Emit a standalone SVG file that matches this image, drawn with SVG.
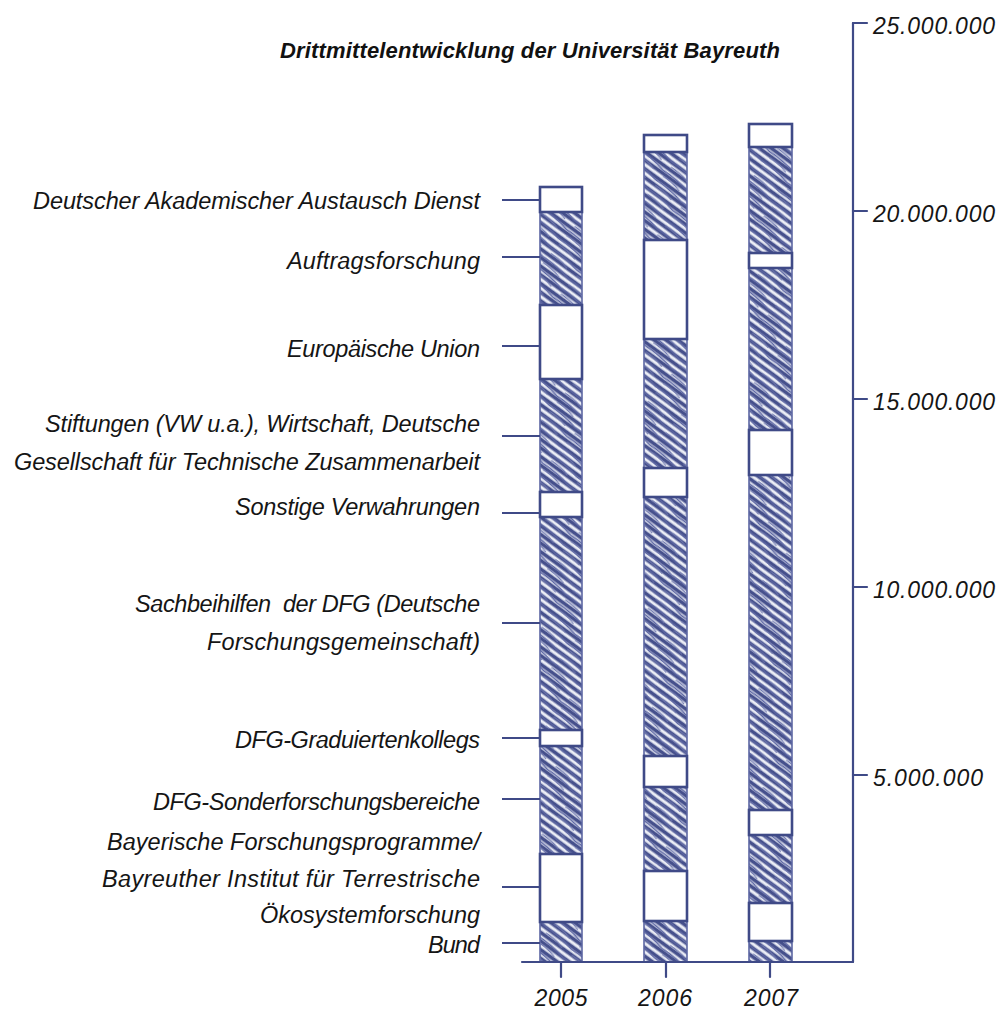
<svg xmlns="http://www.w3.org/2000/svg" width="1003" height="1010" viewBox="0 0 1003 1010">
<style>
.lbl{font-family:"Liberation Sans",Arial,sans-serif;font-style:italic;font-size:23.5px;fill:#151515;text-anchor:end}
.tick{font-family:"Liberation Sans",Arial,sans-serif;font-style:italic;font-size:23px;fill:#151515}
.yr{font-family:"Liberation Sans",Arial,sans-serif;font-style:italic;font-size:23px;fill:#151515;text-anchor:middle}
.title{font-family:"Liberation Sans",Arial,sans-serif;font-style:italic;font-weight:bold;font-size:22px;fill:#111}
.ax{stroke:#3f4a87;stroke-width:2.2;fill:none;stroke-linecap:round}
.con{stroke:#3f4a87;stroke-width:2.2;fill:none}
.wb{fill:#fff;stroke:#3f4a87;stroke-width:2.6}
.hb{fill:url(#h1);stroke:#5d67a3;stroke-width:1.6}
.hov{fill:url(#h2);stroke:none}
</style>
<defs>
<pattern id="h1" width="18" height="7" patternUnits="userSpaceOnUse" patternTransform="rotate(36)">
<rect width="18" height="7" fill="#eceef6"/>
<line x1="0" y1="2.6" x2="18" y2="2.6" stroke="#46508c" stroke-width="3.8"/>
</pattern>
<pattern id="h2" width="34" height="12" patternUnits="userSpaceOnUse" patternTransform="rotate(41)">
<path d="M0 5.5 Q17 3 34 5.5" stroke="#5c66a2" stroke-width="1.3" fill="none"/>
<path d="M4 10 Q15 8 26 10.5" stroke="#6d76ad" stroke-width="1.1" fill="none"/>
</pattern>
</defs>
<rect width="1003" height="1010" fill="#fff"/>

<text class="title" x="280" y="58" textLength="500">Drittmittelentwicklung der Universität Bayreuth</text>

<g id="bar-2005">
<rect class="hb" x="540" y="187" width="42" height="775"/>
<rect class="hov" x="540" y="187" width="42" height="775"/>
<rect class="wb" x="540" y="854" width="42" height="68"/>
<rect class="wb" x="540" y="730" width="42" height="16"/>
<rect class="wb" x="540" y="492" width="42" height="25"/>
<rect class="wb" x="540" y="305" width="42" height="74"/>
<rect class="wb" x="540" y="187" width="42" height="25"/>
</g>
<g id="bar-2006">
<rect class="hb" x="644" y="135" width="43" height="827"/>
<rect class="hov" x="644" y="135" width="43" height="827"/>
<rect class="wb" x="644" y="871" width="43" height="50"/>
<rect class="wb" x="644" y="756" width="43" height="31"/>
<rect class="wb" x="644" y="468" width="43" height="29"/>
<rect class="wb" x="644" y="240" width="43" height="99"/>
<rect class="wb" x="644" y="135" width="43" height="17"/>
</g>
<g id="bar-2007">
<rect class="hb" x="749" y="124" width="43" height="838"/>
<rect class="hov" x="749" y="124" width="43" height="838"/>
<rect class="wb" x="749" y="903" width="43" height="38"/>
<rect class="wb" x="749" y="810" width="43" height="25"/>
<rect class="wb" x="749" y="430" width="43" height="45"/>
<rect class="wb" x="749" y="253" width="43" height="15"/>
<rect class="wb" x="749" y="124" width="43" height="23"/>
</g>

<g id="axes">
<line class="ax" x1="522" y1="962" x2="853" y2="962"/>
<line class="ax" x1="853" y1="23" x2="853" y2="962"/>
<line class="ax" x1="853" y1="23" x2="867" y2="23"/>
<line class="ax" x1="853" y1="211" x2="867" y2="211"/>
<line class="ax" x1="853" y1="399" x2="867" y2="399"/>
<line class="ax" x1="853" y1="587" x2="867" y2="587"/>
<line class="ax" x1="853" y1="775" x2="867" y2="775"/>
<line class="ax" x1="561" y1="962" x2="561" y2="977"/>
<line class="ax" x1="666" y1="962" x2="666" y2="977"/>
<line class="ax" x1="770" y1="962" x2="770" y2="977"/>
<text class="tick" x="873" y="33.5" textLength="122">25.000.000</text>
<text class="tick" x="873" y="221.5" textLength="122">20.000.000</text>
<text class="tick" x="873" y="409.5" textLength="122">15.000.000</text>
<text class="tick" x="873" y="597.5" textLength="122">10.000.000</text>
<text class="tick" x="873" y="785.5" textLength="110">5.000.000</text>
<text class="yr" x="561" y="1006" textLength="53">2005</text>
<text class="yr" x="665" y="1006" textLength="54">2006</text>
<text class="yr" x="771" y="1006" textLength="54">2007</text>
</g>

<g id="connectors">
<line class="con" x1="502" y1="200" x2="540" y2="200"/>
<line class="con" x1="502" y1="257" x2="540" y2="257"/>
<line class="con" x1="502" y1="346" x2="540" y2="346"/>
<line class="con" x1="502" y1="436" x2="540" y2="436"/>
<line class="con" x1="502" y1="513" x2="540" y2="513"/>
<line class="con" x1="502" y1="623" x2="540" y2="623"/>
<line class="con" x1="502" y1="738" x2="540" y2="738"/>
<line class="con" x1="502" y1="799" x2="540" y2="799"/>
<line class="con" x1="502" y1="887" x2="540" y2="887"/>
<line class="con" x1="502" y1="943" x2="540" y2="943"/>
</g>

<g id="label-daad"><text class="lbl" x="480" y="209" textLength="447">Deutscher Akademischer Austausch Dienst</text></g>
<g id="label-auftrag"><text class="lbl" x="480" y="269" textLength="193">Auftragsforschung</text></g>
<g id="label-eu"><text class="lbl" x="480" y="357" textLength="193">Europäische Union</text></g>
<g id="label-stiftungen">
<text class="lbl" x="480" y="432" textLength="435">Stiftungen (VW u.a.), Wirtschaft, Deutsche</text>
<text class="lbl" x="480" y="470" textLength="466">Gesellschaft für Technische Zusammenarbeit</text>
</g>
<g id="label-sonstige"><text class="lbl" x="480" y="515" textLength="245">Sonstige Verwahrungen</text></g>
<g id="label-sachbeihilfen">
<text class="lbl" x="480" y="612" textLength="345">Sachbeihilfen&#160; der DFG (Deutsche</text>
<text class="lbl" x="480" y="650" textLength="273">Forschungsgemeinschaft)</text>
</g>
<g id="label-grad"><text class="lbl" x="480" y="748" textLength="245">DFG-Graduiertenkollegs</text></g>
<g id="label-sfb"><text class="lbl" x="480" y="810" textLength="327">DFG-Sonderforschungsbereiche</text></g>
<g id="label-bayern">
<text class="lbl" x="480" y="850" textLength="373">Bayerische Forschungsprogramme/</text>
<text class="lbl" x="480" y="887" textLength="378">Bayreuther Institut für Terrestrische</text>
<text class="lbl" x="480" y="923" textLength="220">Ökosystemforschung</text>
</g>
<g id="label-bund"><text class="lbl" x="480" y="953" textLength="52">Bund</text></g>
</svg>
